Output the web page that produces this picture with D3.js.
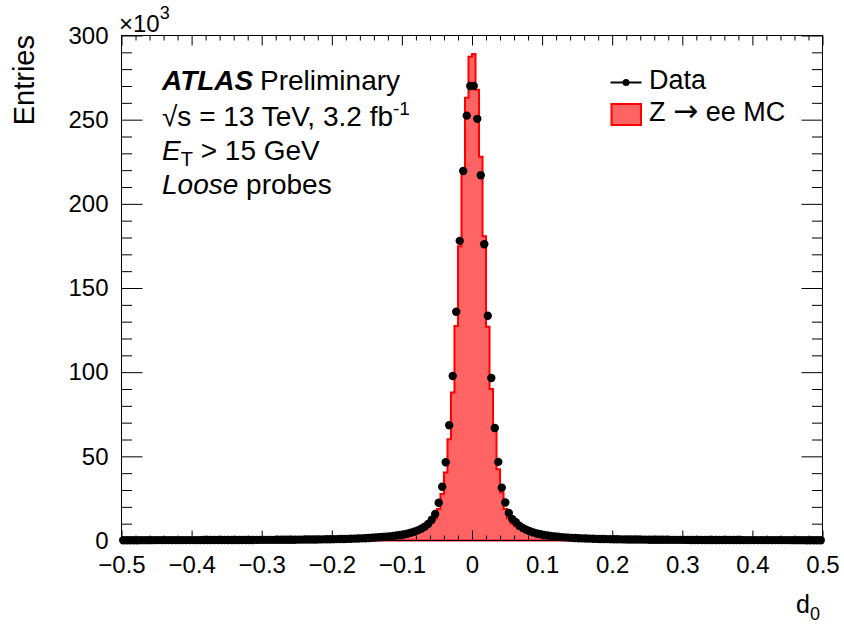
<!DOCTYPE html>
<html><head><meta charset="utf-8">
<script src="https://cdn.jsdelivr.net/npm/d3@7"></script>
<style>
body{margin:0;background:#fff}
svg{display:block}
text{font-family:"Liberation Sans",Arial,Helvetica,sans-serif;fill:#000}
</style>
</head><body>
<svg id="c" width="844" height="626"></svg>
<script>
// ---- binning: 200 bins of width 0.005 from -0.5 to 0.5 ----
const binLow = -0.5;
const binWidth = 0.005;

// Data entries (in thousands), left half: bins from -0.5 to 0 (outer -> inner)
const dataLeft = [
  0.18,0.19,0.19,0.19,0.19,0.20,0.20,0.20,0.20,0.21,
  0.21,0.21,0.22,0.22,0.22,0.23,0.23,0.23,0.24,0.24,
  0.24,0.25,0.25,0.26,0.26,0.27,0.27,0.28,0.28,0.29,
  0.29,0.30,0.31,0.31,0.32,0.33,0.34,0.34,0.35,0.36,
  0.37,0.38,0.39,0.40,0.42,0.43,0.44,0.46,0.47,0.49,
  0.51,0.53,0.55,0.57,0.59,0.62,0.65,0.68,0.71,0.75,
  0.79,0.83,0.88,0.93,0.99,1.05,1.12,1.20,1.28,1.37,
  1.50,1.62,1.75,1.90,2.05,2.25,2.45,2.70,3.00,3.25,
  3.6,4.0,4.6,5.2,6.0,7.0,8.2,9.8,12.3,15.7,
  22.4,31.9,46.5,68.5,97.7,135.9,178,219.5,252.4,270
];
// Data entries (in thousands), right half: bins from 0 to 0.5 (inner -> outer)
const dataRight = [
  270,250.5,217,176,133.5,96.5,66.8,46.7,31.4,22.6,
  16.3,12.7,10.8,8.8,7.4,6.4,5.5,4.8,4.2,3.7,
  3.3,2.95,2.65,2.4,2.2,2.0,1.85,1.7,1.58,1.47,
  1.37,1.28,1.2,1.12,1.05,0.99,0.93,0.88,0.83,0.79,
  0.75,0.71,0.68,0.65,0.62,0.59,0.57,0.55,0.53,0.51,
  0.49,0.47,0.46,0.44,0.43,0.42,0.40,0.39,0.38,0.37,
  0.36,0.35,0.34,0.34,0.33,0.32,0.31,0.31,0.30,0.29,
  0.29,0.28,0.28,0.27,0.27,0.26,0.26,0.25,0.25,0.24,
  0.24,0.24,0.23,0.23,0.23,0.22,0.22,0.22,0.21,0.21,
  0.21,0.20,0.20,0.20,0.20,0.19,0.19,0.19,0.19,0.18
];
// Z->ee MC entries (in thousands), left half (outer -> inner)
const mcLeft = [
  0.16,0.17,0.17,0.17,0.17,0.18,0.18,0.18,0.18,0.19,
  0.19,0.19,0.20,0.20,0.20,0.21,0.21,0.21,0.22,0.22,
  0.22,0.23,0.23,0.24,0.24,0.25,0.25,0.26,0.26,0.27,
  0.27,0.28,0.29,0.29,0.30,0.31,0.32,0.32,0.33,0.34,
  0.35,0.36,0.37,0.38,0.40,0.41,0.42,0.44,0.45,0.47,
  0.49,0.51,0.53,0.55,0.57,0.60,0.63,0.66,0.69,0.73,
  0.77,0.81,0.86,0.91,0.97,1.03,1.10,1.18,1.26,1.36,
  1.46,1.57,1.70,1.84,2.00,2.20,2.42,2.66,2.95,3.10,
  3.4,3.8,4.3,4.9,5.6,6.5,7.6,9.0,10.5,13.0,
  18.7,27.6,40.4,60.2,87.9,127.4,174.8,219,263,287.4
];
// Z->ee MC entries (in thousands), right half (inner -> outer)
const mcRight = [
  289,267.7,228,180.7,127,90,65,42.4,28.6,18.7,
  13.2,10.2,8.5,7.1,6.0,5.2,4.5,3.9,3.4,3.0,
  2.7,2.45,2.2,2.0,1.85,1.7,1.57,1.45,1.35,1.26,
  1.18,1.1,1.03,0.97,0.91,0.86,0.81,0.77,0.73,0.69,
  0.66,0.63,0.60,0.57,0.55,0.53,0.51,0.49,0.47,0.45,
  0.44,0.42,0.41,0.40,0.38,0.37,0.36,0.35,0.34,0.33,
  0.32,0.32,0.31,0.30,0.29,0.29,0.28,0.28,0.27,0.26,
  0.26,0.25,0.25,0.25,0.24,0.24,0.23,0.23,0.22,0.22,
  0.22,0.21,0.21,0.21,0.20,0.20,0.20,0.19,0.19,0.19,
  0.19,0.18,0.18,0.18,0.18,0.17,0.17,0.17,0.17,0.16
];

const xTicks = [-0.5,-0.4,-0.3,-0.2,-0.1,0,0.1,0.2,0.3,0.4,0.5];
const xTickLabels = ["\u22120.5","\u22120.4","\u22120.3","\u22120.2","\u22120.1","0","0.1","0.2","0.3","0.4","0.5"];
const yTicks = [0,50,100,150,200,250,300];
const yTickLabels = ["0","50","100","150","200","250","300"];

const dataK = dataLeft.concat(dataRight);
const mcK = mcLeft.concat(mcRight);
if (dataK.length !== 200 || mcK.length !== 200) throw new Error("bad lengths " + dataK.length + " " + mcK.length);

const svg = d3.select("#c");
const x = d3.scaleLinear().domain([-0.5, 0.5]).range([121.5, 822.5]);
const y = d3.scaleLinear().domain([0, 300]).range([540.5, 35.5]);

// ---- MC histogram ----
const pts = [[x(binLow), y(0)]];
mcK.forEach((v, i) => {
  const lo = binLow + i * binWidth, hi = lo + binWidth;
  pts.push([x(lo), y(v)], [x(hi), y(v)]);
});
pts.push([x(binLow + mcK.length * binWidth), y(0)]);
svg.append("path")
  .attr("d", d3.line()(pts) + "Z")
  .attr("fill", "#ff6464")
  .attr("stroke", "#ff0000")
  .attr("stroke-width", 2)
  .attr("stroke-linejoin", "miter");

// ---- axes ----
const xMinor = d3.range(-0.5, 0.5001, 0.02).filter(v => Math.abs(Math.round(v * 10) / 10 - v) > 1e-6);
const yMinor = d3.range(0, 301, 10).filter(v => v % 50 !== 0);

function styleAxis(g) {
  g.select(".domain").remove();
  g.selectAll(".tick line").attr("stroke", "#000").attr("stroke-width", 1);
  g.selectAll("text").style("font-size", "24px").attr("fill", "#000");
}

svg.append("g").attr("transform", `translate(0,${y(0)})`)
  .call(d3.axisBottom(x).tickValues(xTicks).tickFormat((d, i) => xTickLabels[i]).tickSize(-10).tickPadding(15))
  .call(styleAxis);
svg.append("g").attr("transform", `translate(0,${y(0)})`)
  .call(d3.axisBottom(x).tickValues(xMinor).tickFormat("").tickSize(-5))
  .call(styleAxis);
svg.append("g").attr("transform", `translate(0,${y(300)})`)
  .call(d3.axisTop(x).tickValues(xTicks).tickFormat("").tickSize(-10))
  .call(styleAxis);
svg.append("g").attr("transform", `translate(0,${y(300)})`)
  .call(d3.axisTop(x).tickValues(xMinor).tickFormat("").tickSize(-5))
  .call(styleAxis);

svg.append("g").attr("transform", `translate(${x(-0.5)},0)`)
  .call(d3.axisLeft(y).tickValues(yTicks).tickFormat((d, i) => yTickLabels[i]).tickSize(-21).tickPadding(13))
  .call(styleAxis);
svg.append("g").attr("transform", `translate(${x(-0.5)},0)`)
  .call(d3.axisLeft(y).tickValues(yMinor).tickFormat("").tickSize(-10.5))
  .call(styleAxis);
svg.append("g").attr("transform", `translate(${x(0.5)},0)`)
  .call(d3.axisRight(y).tickValues(yTicks).tickFormat("").tickSize(-21))
  .call(styleAxis);
svg.append("g").attr("transform", `translate(${x(0.5)},0)`)
  .call(d3.axisRight(y).tickValues(yMinor).tickFormat("").tickSize(-10.5))
  .call(styleAxis);

svg.append("rect")
  .attr("x", x(-0.5)).attr("y", y(300))
  .attr("width", x(0.5) - x(-0.5)).attr("height", y(0) - y(300))
  .attr("fill", "none").attr("stroke", "#000").attr("stroke-width", 1);

// ---- data points ----
svg.append("g").selectAll("circle").data(dataK).join("circle")
  .attr("cx", (d, i) => x(binLow + (i + 0.5) * binWidth))
  .attr("cy", d => y(d))
  .attr("r", 4.2)
  .attr("fill", "#000");

// ---- axis titles ----
svg.append("text")
  .attr("transform", "translate(33.5,35) rotate(-90)")
  .attr("text-anchor", "end")
  .style("font-size", "29px")
  .text("Entries");

const mult = svg.append("text").attr("x", 119).attr("y", 32).style("font-size", "24px");
mult.append("tspan").text("\u00d710");
mult.append("tspan").attr("dy", -13).style("font-size", "18px").text("3");

const xl = svg.append("text").attr("x", 796).attr("y", 613).style("font-size", "25px");
xl.append("tspan").text("d");
xl.append("tspan").attr("dy", 7).style("font-size", "18px").text("0");

// ---- ATLAS label block ----
svg.append("text").attr("x", 162).attr("y", 90)
  .style("font-size", "28px").style("font-weight", "bold").style("font-style", "italic")
  .text("ATLAS");
svg.append("text").attr("x", 260).attr("y", 90).style("font-size", "28px").text("Preliminary");

const l2 = svg.append("text").attr("x", 162).attr("y", 125.5).style("font-size", "28px");
l2.append("tspan").text("\u221as = 13 TeV, 3.2 fb");
l2.append("tspan").attr("dy", -11).style("font-size", "19px").text("-1");

const l3 = svg.append("text").attr("x", 162).attr("y", 160).style("font-size", "28px");
l3.append("tspan").style("font-style", "italic").text("E");
l3.append("tspan").attr("dy", 6).style("font-size", "20px").text("T");
l3.append("tspan").attr("dy", -6).text(" > 15 GeV");

const l4 = svg.append("text").attr("x", 162).attr("y", 193.5).style("font-size", "28px");
l4.append("tspan").style("font-style", "italic").text("Loose");
l4.append("tspan").text(" probes");

// ---- legend ----
svg.append("line").attr("x1", 610.5).attr("x2", 641.5).attr("y1", 82.5).attr("y2", 82.5)
  .attr("stroke", "#000").attr("stroke-width", 2);
svg.append("circle").attr("cx", 626).attr("cy", 82.5).attr("r", 3.5).attr("fill", "#000");
svg.append("text").attr("x", 649).attr("y", 88.5).style("font-size", "27px").text("Data");

svg.append("rect").attr("x", 611.5).attr("y", 104).attr("width", 29.5).attr("height", 21)
  .attr("fill", "#ff6464").attr("stroke", "#ff0000").attr("stroke-width", 2);
const mcLabel = svg.append("text").attr("x", 649).attr("y", 120.5).style("font-size", "27px");
mcLabel.append("tspan").text("Z ");
mcLabel.append("tspan").style("font-family", "'DejaVu Sans'").style("font-size", "30px").text("\u2192");
mcLabel.append("tspan").text(" ee MC");
</script>
</body></html>
